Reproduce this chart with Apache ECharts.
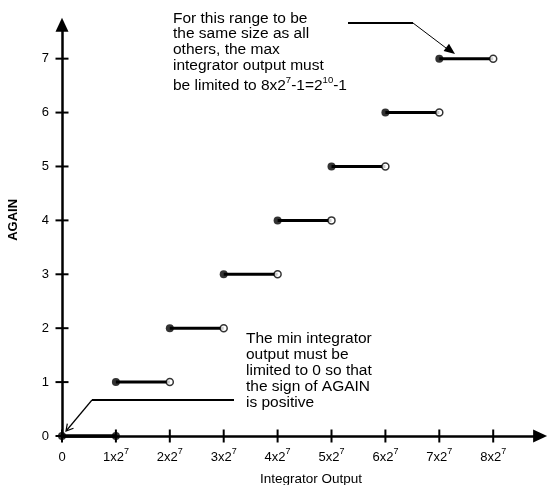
<!DOCTYPE html>
<html>
<head>
<meta charset="utf-8">
<script src="https://cdn.jsdelivr.net/npm/echarts@6/dist/echarts.min.js"></script>
<style>html,body{margin:0;padding:0;background:#fff}#c{width:550px;height:485px}</style>
</head>
<body>
<div id="c"></div>
<script>
// ---- data ----
const xTickValues = [0, 1, 2, 3, 4, 5, 6, 7, 8];
const xTickBase = ['0', '1x2', '2x2', '3x2', '4x2', '5x2', '6x2', '7x2', '8x2'];
const xTickExp = ['', '7', '7', '7', '7', '7', '7', '7', '7'];
const yTickValues = [0, 1, 2, 3, 4, 5, 6, 7];
const againLevels = [0, 1, 2, 3, 4, 5, 6, 7];
const rangeStart = [0, 1, 2, 3, 4, 5, 6, 7];
const rangeEnd = [1, 2, 3, 4, 5, 6, 7, 8];
const endDotFilled = [true, false, false, false, false, false, false, false];

// ---- chart ----
const FONT = 'Liberation Sans, Arial, Helvetica, sans-serif';
const X_MAX = 8.87, Y_MAX = 7.63;
const chart = echarts.init(document.getElementById('c'));

const segSeries = againLevels.map((lv, i) => ({
  type: 'line',
  data: [[rangeStart[i], lv], [rangeEnd[i], lv]],
  symbol: 'none',
  clip: false,
  silent: true,
  z: 3,
  lineStyle: { color: '#000', width: lv === 0 ? 3.5 : 3 }
}));

const closedPts = againLevels.map((lv, i) => [rangeStart[i], lv]);
const openPts = [];
againLevels.forEach((lv, i) => {
  if (endDotFilled[i]) closedPts.push([rangeEnd[i], lv]);
  else openPts.push([rangeEnd[i], lv]);
});

// crossing tick marks drawn through the axes' own scales
function tickSeries(values, horizontalAxis) {
  return {
    type: 'custom', coordinateSystem: 'cartesian2d', clip: false, silent: true, z: 5,
    data: values.map(v => horizontalAxis ? [v, 0] : [0, v]),
    renderItem: (params, api) => {
      const p = api.coord([api.value(0), api.value(1)]);
      const h = 6.5;
      return {
        type: 'line',
        shape: horizontalAxis
          ? { x1: p[0], y1: p[1] - h, x2: p[0], y2: p[1] + h }
          : { x1: p[0] - h, y1: p[1], x2: p[0] + h, y2: p[1] },
        style: { stroke: '#000', lineWidth: 2 }
      };
    }
  };
}

const xLabelRich = {
  b: { fontFamily: FONT, fontSize: 13, color: '#000', lineHeight: 16, verticalAlign: 'bottom' },
  s: { fontFamily: FONT, fontSize: 9, color: '#000', lineHeight: 7, verticalAlign: 'top' }
};

const option = {
  animation: false,
  backgroundColor: '#fff',
  grid: { left: 62, top: 24.7, width: 478.1, height: 411.3, outerBoundsMode: 'none', containLabel: false },
  xAxis: {
    type: 'value', min: 0, max: X_MAX, position: 'bottom',
    axisLine: { show: true, onZero: false, lineStyle: { color: '#000', width: 2.5 },
                symbol: ['none', 'triangle'], symbolSize: [13, 14] },
    axisTick: { show: false },
    axisLabel: {
      customValues: xTickValues, margin: 11.5,
      formatter: v => {
        const i = xTickValues.indexOf(v);
        if (i < 0) return '';
        return xTickExp[i] ? '{b|' + xTickBase[i] + '}{s|' + xTickExp[i] + '}' : '{b|' + xTickBase[i] + '}';
      },
      rich: xLabelRich
    },
    splitLine: { show: false },
    name: 'Integrator Output', nameLocation: 'middle', nameGap: 36,
    nameTextStyle: { fontFamily: FONT, fontSize: 13.5, color: '#000', padding: [0, 0, 0, 20] }
  },
  yAxis: {
    type: 'value', min: 0, max: Y_MAX, position: 'left',
    axisLine: { show: true, onZero: false, lineStyle: { color: '#000', width: 2.5 },
                symbol: ['none', 'triangle'], symbolSize: [13, 14] },
    axisTick: { show: false },
    axisLabel: { customValues: yTickValues, margin: 13, fontFamily: FONT, fontSize: 13, color: '#000' },
    splitLine: { show: false },
    name: 'AGAIN', nameLocation: 'middle', nameGap: 42, nameRotate: 90,
    nameTextStyle: { fontFamily: FONT, fontSize: 13, fontWeight: 'bold', color: '#000', padding: [0, 0, 0, 21] }
  },
  series: segSeries.concat([
    tickSeries(xTickValues, true),
    tickSeries(yTickValues, false),
    {
      type: 'scatter', data: closedPts, symbol: 'circle', symbolSize: 8, clip: false, silent: true, z: 6,
      itemStyle: { color: '#000' }
    },
    {
      type: 'scatter', data: openPts, symbol: 'circle', symbolSize: 7, clip: false, silent: true, z: 6,
      itemStyle: { color: '#fff', borderColor: '#000', borderWidth: 1.5 }
    }
  ]),
  graphic: [
    {
      type: 'text', x: 173, y: 11, z: 10,
      style: {
        text: '{n|For this range to be}\n{n|the same size as all}\n{n|others, the max}\n{n|integrator output must}\n{m|be limited to 8x2}{t|7}{m|-1=2}{t|10}{m|-1}',
        verticalAlign: 'top',
        rich: {
          n: { fontFamily: FONT, fontSize: 15.5, lineHeight: 15.6, fill: '#000', verticalAlign: 'bottom' },
          m: { fontFamily: FONT, fontSize: 15.5, lineHeight: 20, fill: '#000', verticalAlign: 'bottom' },
          t: { fontFamily: FONT, fontSize: 9.5, lineHeight: 5, fill: '#000', verticalAlign: 'top', padding: [2.4, 0, 0, 0] }
        }
      }
    },
    { type: 'polyline', z: 10, shape: { points: [[348, 23], [413, 23]] }, style: { stroke: '#000', lineWidth: 2, fill: null } },
    { type: 'polyline', z: 10, shape: { points: [[413, 23], [448, 49.5]] }, style: { stroke: '#000', lineWidth: 1, fill: null } },
    { type: 'polygon', z: 10, shape: { points: [[455, 54], [443.6, 50.9], [449.0, 43.7]] }, style: { fill: '#000' } },
    {
      type: 'text', x: 246, y: 331, z: 10,
      style: {
        text: 'The min integrator\noutput must be\nlimited to 0 so that\nthe sign of AGAIN\nis positive',
        fontFamily: FONT, fontSize: 15.5, lineHeight: 16, fill: '#000', verticalAlign: 'top'
      }
    },
    { type: 'polyline', z: 10, shape: { points: [[92, 400], [234, 400]] }, style: { stroke: '#000', lineWidth: 2, fill: null } },
    { type: 'polyline', z: 10, shape: { points: [[92, 400], [66.5, 430.5]] }, style: { stroke: '#000', lineWidth: 1.2, fill: null } },
    { type: 'polyline', z: 10, shape: { points: [[73.5, 428.3], [66, 431], [67.3, 423.6]] }, style: { stroke: '#000', lineWidth: 1.2, fill: null } }
  ]
};
chart.setOption(option);
</script>
</body>
</html>
